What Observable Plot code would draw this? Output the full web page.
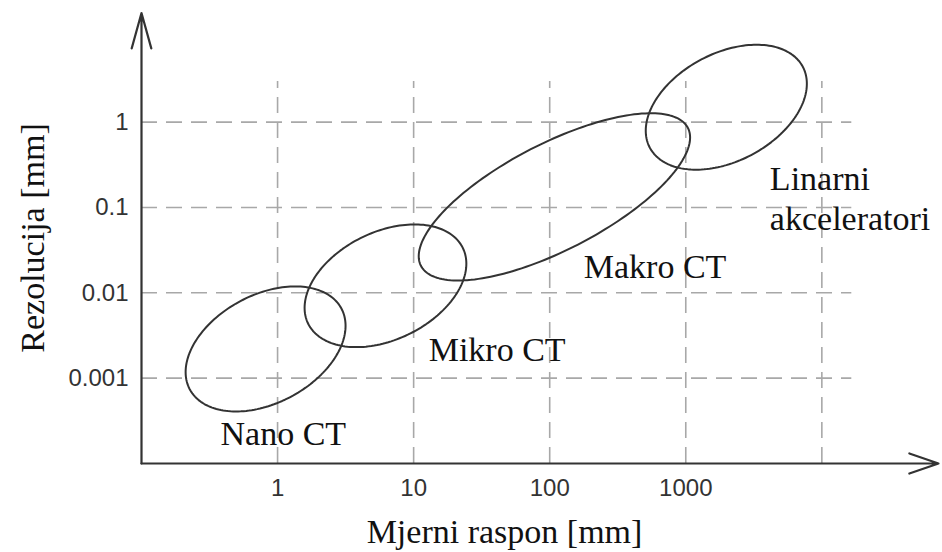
<!DOCTYPE html>
<html><head><meta charset="utf-8">
<script src="https://cdn.jsdelivr.net/npm/d3@7"></script>
<script src="https://cdn.jsdelivr.net/npm/@observablehq/plot@0.6"></script>
<style>
body{margin:0;background:#fff;}
#chart svg{display:block;}
#chart svg text.serif-text{font-family:'Liberation Serif','Times New Roman','DejaVu Serif',serif !important;}
#chart svg text.sans-text{font-family:'Liberation Sans',Arial,'DejaVu Sans',sans-serif !important;}
</style></head><body><div id="chart"></div>
<script>
// Regions (ellipses): extent along both log axes + tilt
const regions = ["Nano CT", "Mikro CT", "Makro CT", "Linarni akceleratori"];
const rangeMin = [0.211, 1.58, 10.9, 508];          // Mjerni raspon [mm], left end
const rangeMax = [3.16, 24.4, 1076, 7760];          // right end
const resMin = [0.000407, 0.00231, 0.01395, 0.277]; // Rezolucija [mm], bottom
const resMax = [0.01188, 0.0633, 1.27, 8.07];       // top
const tilt = [0.37, 0.36, 0.71, 0.376];             // correlation of the ellipse

// Region labels
const labelText = ["Nano CT", "Mikro CT", "Makro CT", "Linarni\nakceleratori"];
const labelX = [0.381, 12.9, 178, 4150];
const labelY = [1.63e-4, 0.00157, 0.01473, 0.0538];

// Axes
const xTicks = [1, 10, 100, 1000];
const yTicks = [0.001, 0.01, 0.1, 1];
const xGrid = [1, 10, 100, 1000, 10000];
const yGrid = [0.001, 0.01, 0.1, 1];
const xDomain = [0.1, 72000];
const yDomain = [1e-4, 19];
const gridXEnd = 16600;
const gridYEnd = 3;
const xTitle = "Mjerni raspon [mm]";
const yTitle = "Rezolucija [mm]";

const ellipsePoints = regions.flatMap((name, i) => {
  const lx0 = Math.log10(rangeMin[i]), lx1 = Math.log10(rangeMax[i]);
  const ly0 = Math.log10(resMin[i]), ly1 = Math.log10(resMax[i]);
  const cx = (lx0 + lx1) / 2, hx = (lx1 - lx0) / 2;
  const cy = (ly0 + ly1) / 2, hy = (ly1 - ly0) / 2;
  const r = tilt[i], s = Math.sqrt(1 - r * r);
  return d3.range(0, 360, 2).map(a => {
    const t = a * Math.PI / 180;
    return {region: name,
      x: 10 ** (cx + hx * Math.cos(t)),
      y: 10 ** (cy + hy * (r * Math.cos(t) + s * Math.sin(t)))};
  });
});
const labels = labelText.map((t, i) => ({text: t, x: labelX[i], y: labelY[i]}));

const serifStack = "'Liberation Serif', 'Times New Roman', 'DejaVu Serif', serif";
const sansStack = "'Liberation Sans', Arial, 'DejaVu Sans', sans-serif";

// resolve the system fonts before drawing
const ctx = document.createElement("canvas").getContext("2d");
function w(f) { ctx.font = "34px " + f; return ctx.measureText("Mjerni raspon [mm] akceleratori").width; }
["'Liberation Serif'", "'Times New Roman'", "'DejaVu Serif'", "serif",
 "monospace", "sans-serif", "'Liberation Sans'"].forEach(c => { w(c + ", monospace"); w(c); });

const gridStyle = {stroke: "#a8a8a8", strokeWidth: 1.6, strokeDasharray: "16,9"};

const chart = Plot.plot({
  width: 942, height: 552,
  marginLeft: 141, marginRight: 4, marginTop: 12.5, marginBottom: 89,
  style: {background: "#fff", color: "#333"},
  x: {type: "log", domain: xDomain},
  y: {type: "log", domain: yDomain},
  marks: [
    Plot.ruleY(yGrid, {y: d => d, x1: () => xDomain[0], x2: () => gridXEnd, ...gridStyle}),
    Plot.ruleX(xGrid, {x: d => d, y1: () => yDomain[0], y2: () => gridYEnd, ...gridStyle}),
    Plot.line(ellipsePoints, {x: "x", y: "y", z: "region", curve: "linear-closed", stroke: "#333", strokeWidth: 2}),
    Plot.arrow([0], {x1: () => xDomain[0], y1: () => yDomain[0], x2: () => xDomain[1], y2: () => yDomain[0],
      stroke: "#333", strokeWidth: 2.2, headAngle: 38, headLength: 21}),
    Plot.arrow([0], {x1: () => xDomain[0], y1: () => yDomain[0], x2: () => xDomain[0], y2: () => yDomain[1],
      stroke: "#333", strokeWidth: 2.2, headAngle: 31, headLength: 25}),
    Plot.axisX(xTicks, {anchor: "bottom", tickSize: 0, tickPadding: 15, tickFormat: d => String(d),
      fontSize: 24, fill: "#333", label: null}),
    Plot.axisY(yTicks, {anchor: "left", tickSize: 0, tickPadding: 13, tickFormat: d => String(d),
      fontSize: 24, fill: "#333", label: null}),
    Plot.text(labels, {x: "x", y: "y", text: "text", textAnchor: "start", lineAnchor: "bottom",
      lineHeight: 1.18, fontSize: 34, fill: "#111"}),
    Plot.text([xTitle], {frameAnchor: "bottom-left", dx: 363, dy: 79, text: d => d, textAnchor: "middle",
      lineAnchor: "bottom", fontSize: 34, fill: "#111"}),
    Plot.text([yTitle], {frameAnchor: "top-left", dx: -98, dy: 225, text: d => d, textAnchor: "middle",
      lineAnchor: "bottom", rotate: -90, fontSize: 34, fill: "#111"})
  ]
});
document.getElementById("chart").appendChild(chart);

// Font families: serif for annotations/titles, sans for tick labels
function applyFonts() {
  d3.select(chart).selectAll("text").each(function() {
    const fs = +(this.closest("g[font-size]")?.getAttribute("font-size") || 0);
    const isSerif = fs >= 30;
    this.setAttribute("font-family", isSerif ? serifStack : sansStack);
    this.style.fontFamily = isSerif ? serifStack : sansStack;
    this.classList.add(isSerif ? "serif-text" : "sans-text");
  });
  chart.getBoundingClientRect();
}
applyFonts();
if (document.fonts && document.fonts.ready) document.fonts.ready.then(applyFonts);
window.addEventListener("load", applyFonts);
</script>
</body></html>
